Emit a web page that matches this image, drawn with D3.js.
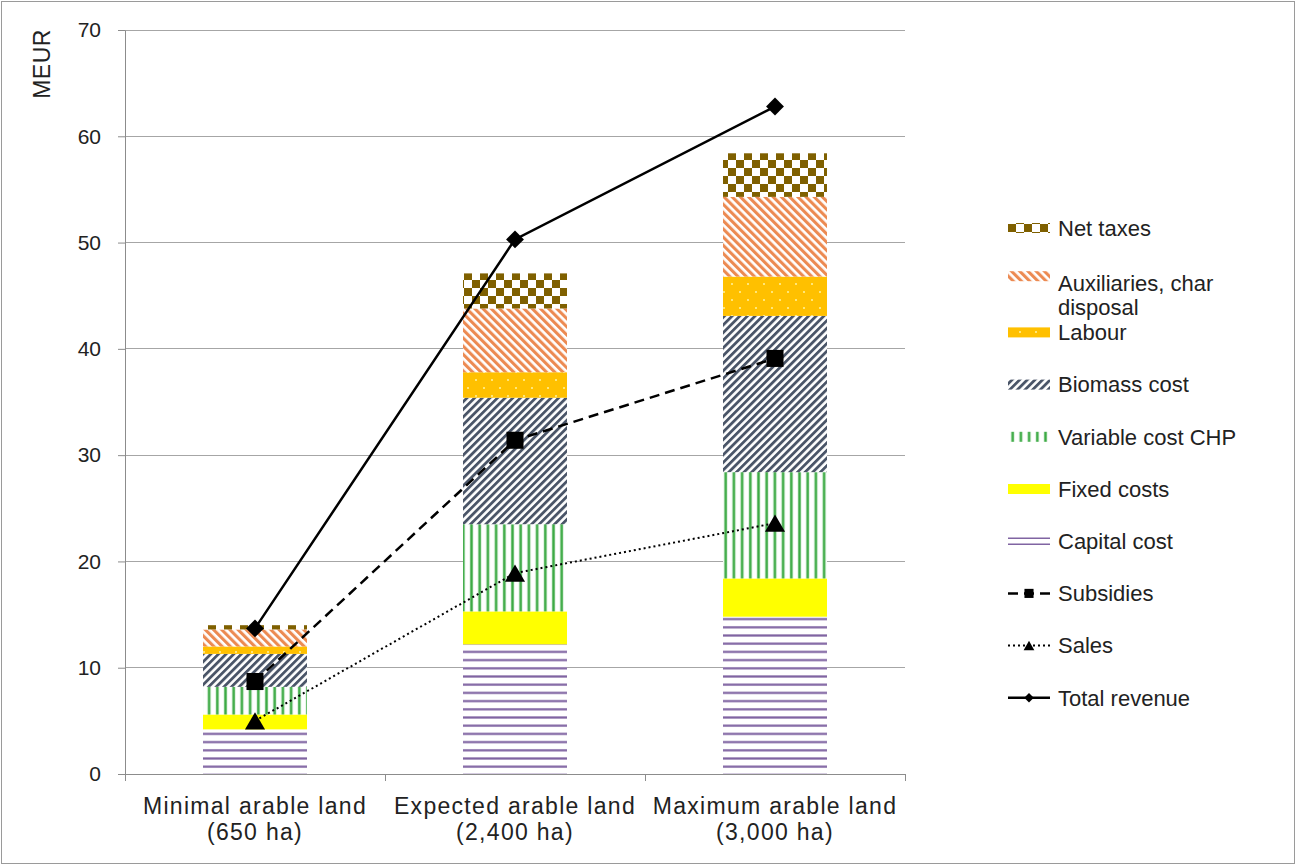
<!DOCTYPE html>
<html>
<head>
<meta charset="utf-8">
<script src="https://cdn.jsdelivr.net/npm/d3@7"></script>
<style>
  html, body { margin: 0; padding: 0; background: #fff; }
  svg { display: block; font-family: "Liberation Sans", Arial, sans-serif; }
</style>
</head>
<body>
<svg id="chart" width="1296" height="865"></svg>
<script>
// categories (two text lines each)
const categories = ["Minimal arable land", "Expected arable land", "Maximum arable land"];
const catSub = ["(650 ha)", "(2,400 ha)", "(3,000 ha)"];

// stacked cost components, bottom to top (MEUR)
const capitalCost = [4.2, 12.2, 14.8];
const fixedCosts = [1.4, 3.1, 3.6];
const variableCostCHP = [2.6, 8.2, 10.0];
const biomassCost = [3.1, 11.9, 14.7];
const labour = [0.7, 2.4, 3.7];
const auxiliaries = [1.6, 6.0, 7.5];
const netTaxes = [0.4, 3.3, 4.1];

// revenue lines (MEUR)
const subsidies = [8.7, 31.4, 39.1];
const sales = [5.0, 18.9, 23.6];
const totalRevenue = [13.7, 50.3, 62.8];

const yTicks = [0, 10, 20, 30, 40, 50, 60, 70];

const stackKeys = ["Capital cost", "Fixed costs", "Variable cost CHP", "Biomass cost",
  "Labour", "Auxiliaries, char disposal", "Net taxes"];
const stackVals = [capitalCost, fixedCosts, variableCostCHP, biomassCost, labour, auxiliaries, netTaxes];
const fills = ["url(#pCap)", "#ffff00", "url(#pVar)", "url(#pBio)", "url(#pLab)", "url(#pAux)", "url(#pTax)"];

const rows = categories.map((c, i) => {
  const r = { cat: c };
  stackKeys.forEach((k, j) => r[k] = stackVals[j][i]);
  return r;
});

const svg = d3.select("#chart");
const W = 1296, H = 865;

// outer frame
svg.append("rect").attr("x", 1.5).attr("y", 1.5).attr("width", W - 3).attr("height", H - 3)
  .attr("fill", "#fff").attr("stroke", "#9a9a9a");

// patterns
const defs = svg.append("defs");
function pat(id, w, h, rot) {
  const p = defs.append("pattern").attr("id", id).attr("patternUnits", "userSpaceOnUse")
    .attr("width", w).attr("height", h);
  if (rot) p.attr("patternTransform", `rotate(${rot})`);
  p.append("rect").attr("width", w).attr("height", h).attr("fill", "#fff");
  return p;
}
pat("pCap", 8, 8.2).append("rect").attr("y", 3).attr("width", 8).attr("height", 2.2).attr("fill", "#8064a2");
const pv = pat("pVar", 8.2, 8);
pv.append("rect").attr("x", 2.4).attr("width", 3.4).attr("height", 8).attr("fill", "#b9e3bc");
pv.append("rect").attr("x", 3).attr("width", 2.2).attr("height", 8).attr("fill", "#3daa45");
pat("pBio", 5.4, 5.4, 45).append("rect").attr("width", 2.8).attr("height", 5.4).attr("fill", "#4a5568");
pat("pAux", 5.8, 5.8, -45).append("rect").attr("width", 3.1).attr("height", 5.8).attr("fill", "#ec8a52");
const pl = pat("pLab", 16, 16);
pl.select("rect").attr("fill", "#ffc000");
pl.append("circle").attr("cx", 4).attr("cy", 4).attr("r", 1).attr("fill", "#fff3a0");
pl.append("circle").attr("cx", 12).attr("cy", 12).attr("r", 1).attr("fill", "#fff3a0");
const pt = pat("pTax", 16, 16);
pt.append("rect").attr("width", 8).attr("height", 8).attr("fill", "#7f6000");
pt.append("rect").attr("x", 8).attr("y", 8).attr("width", 8).attr("height", 8).attr("fill", "#7f6000");

// scales
const x = d3.scaleBand().domain(categories).range([125, 905]);
const y = d3.scaleLinear().domain([0, 70]).range([774, 30]);
const barW = x.bandwidth() / 2.5;
const cx = i => x(categories[i]) + x.bandwidth() / 2;

// gridlines
svg.append("g").selectAll("line").data(yTicks.filter(t => t > 0)).join("line")
  .attr("x1", 125).attr("x2", 905).attr("y1", d => y(d)).attr("y2", d => y(d))
  .attr("stroke", "#a6a6a6").attr("stroke-width", 1).attr("shape-rendering", "crispEdges");

// y axis
const yAxis = svg.append("g").attr("transform", "translate(125,0)")
  .call(d3.axisLeft(y).tickValues(yTicks).tickSize(7).tickPadding(17).tickSizeOuter(0));
yAxis.select(".domain").attr("stroke", "#8c8c8c");
yAxis.selectAll(".tick line").attr("stroke", "#8c8c8c");
yAxis.selectAll(".tick text").attr("font-size", 21).attr("fill", "#222")
  .attr("font-family", "Liberation Sans, Arial, sans-serif");

// x axis
const xAxis = svg.append("g").attr("transform", "translate(0,774)")
  .call(d3.axisBottom(x).tickSize(0).tickFormat(""));
xAxis.select(".domain").attr("stroke", "#8c8c8c");
svg.append("g").selectAll("line").data([125, 385, 645, 905]).join("line")
  .attr("x1", d => d).attr("x2", d => d).attr("y1", 774).attr("y2", 781)
  .attr("stroke", "#8c8c8c").attr("shape-rendering", "crispEdges");

// category labels
const cl = svg.append("g").attr("font-size", 23).attr("fill", "#222").attr("text-anchor", "middle")
  .attr("letter-spacing", "1.3px");
categories.forEach((c, i) => {
  cl.append("text").attr("x", cx(i)).attr("y", 814).text(c);
  cl.append("text").attr("x", cx(i)).attr("y", 840).text(catSub[i]);
});

// y axis title
svg.append("text").attr("transform", "translate(50,64) rotate(-90)").attr("text-anchor", "middle")
  .attr("font-size", 23).attr("fill", "#222").attr("letter-spacing", "0.5px").text("MEUR");

// stacked bars
const series = d3.stack().keys(stackKeys)(rows);
svg.append("g").selectAll("g").data(series).join("g")
  .attr("fill", (d, i) => fills[i])
  .selectAll("rect").data(d => d).join("rect")
  .attr("x", d => x(d.data.cat) + (x.bandwidth() - barW) / 2)
  .attr("width", barW)
  .attr("y", d => y(d[1]))
  .attr("height", d => y(d[0]) - y(d[1]));

// lines
const lineGen = d3.line().x((d, i) => cx(i)).y(d => y(d));
const lineDefs = [
  { name: "Subsidies", data: subsidies, dash: "10,6", w: 2.5, sym: d3.symbolSquare, size: 290, rot: 0, dy: 0 },
  { name: "Sales", data: sales, dash: "2,3", w: 2, sym: d3.symbolTriangle, size: 175, rot: 0, dy: 2.9 },
  { name: "Total revenue", data: totalRevenue, dash: null, w: 2.5, sym: d3.symbolSquare, size: 160, rot: 45, dy: 0 }
];
lineDefs.forEach(l => {
  svg.append("path").datum(l.data).attr("d", lineGen).attr("fill", "none")
    .attr("stroke", "#000").attr("stroke-width", l.w).attr("stroke-dasharray", l.dash);
  svg.append("g").selectAll("path").data(l.data).join("path")
    .attr("transform", (d, i) => `translate(${cx(i)},${y(d) + l.dy}) rotate(${l.rot})`)
    .attr("d", d3.symbol(l.sym, l.size)).attr("fill", "#000");
});

// legend
const legendItems = ["Net taxes", "Auxiliaries, char disposal", "Labour", "Biomass cost",
  "Variable cost CHP", "Fixed costs", "Capital cost", "Subsidies", "Sales", "Total revenue"];
const leg = svg.append("g").attr("font-size", 22).attr("fill", "#222");
const ly = i => 228 + i * 52.2;
legendItems.forEach((name, i) => {
  const yy = ly(i);
  const si = stackKeys.indexOf(name);
  if (si >= 0) {
    const sy = name.startsWith("Aux") ? yy - 4 : yy;
    if (name === "Capital cost") {
      leg.append("line").attr("x1", 1008).attr("x2", 1050).attr("y1", yy - 3).attr("y2", yy - 3)
        .attr("stroke", "#8064a2").attr("stroke-width", 1.5);
      leg.append("line").attr("x1", 1008).attr("x2", 1050).attr("y1", yy + 3).attr("y2", yy + 3)
        .attr("stroke", "#8064a2").attr("stroke-width", 1.5);
    } else {
      leg.append("rect").attr("x", 1008).attr("y", sy - 5).attr("width", 42).attr("height", 10)
        .attr("fill", fills[si]);
    }
  } else {
    const l = lineDefs.find(d => d.name === name);
    leg.append("line").attr("x1", 1008).attr("x2", 1050).attr("y1", yy).attr("y2", yy)
      .attr("stroke", "#000").attr("stroke-width", l.w).attr("stroke-dasharray", l.dash);
    leg.append("path").attr("transform", `translate(1029,${yy + l.dy / 2}) rotate(${l.rot})`)
      .attr("d", d3.symbol(l.sym, l.size / 3.5)).attr("fill", "#000");
  }
  if (name === "Auxiliaries, char disposal") {
    leg.append("text").attr("x", 1058).attr("y", yy + 3).attr("dy", "0.35em").text("Auxiliaries, char");
    leg.append("text").attr("x", 1058).attr("y", yy + 27).attr("dy", "0.35em").text("disposal");
  } else {
    leg.append("text").attr("x", 1058).attr("y", yy).attr("dy", "0.35em").text(name);
  }
});
</script>
</body>
</html>
